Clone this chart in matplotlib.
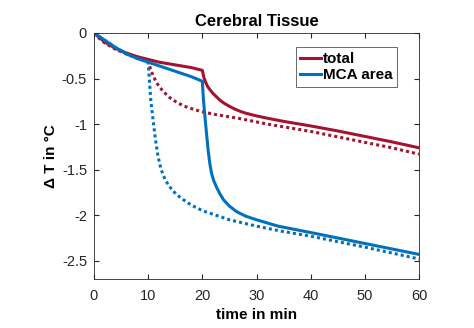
import matplotlib.pyplot as plt
import numpy as np

plt.rcParams['font.family'] = ['Liberation Sans', 'DejaVu Sans']

# total, solid
t_total = [0, 1, 2, 4, 6, 8, 10, 12, 14, 16, 18, 20, 20.3, 20.6, 21, 21.5, 22, 22.6, 23.3, 24,
           25, 26, 27, 28, 29, 30, 32, 35, 40, 45, 50, 55, 60]
T_total = [0, -0.05, -0.1, -0.17, -0.22, -0.26, -0.29, -0.32, -0.34, -0.36, -0.38, -0.41,
           -0.49, -0.54, -0.59, -0.63, -0.665, -0.7, -0.74, -0.77, -0.805, -0.835, -0.86,
           -0.88, -0.895, -0.91, -0.935, -0.97, -1.02, -1.075, -1.135, -1.195, -1.26]

# total, dotted
t_total2 = [0, 1, 2, 4, 6, 8, 10, 10.5, 11, 11.6, 12.2, 13, 14, 15, 16.5, 18, 19.6, 22, 24,
            27, 32, 35, 40, 45, 50, 55, 60]
T_total2 = [0, -0.06, -0.11, -0.18, -0.23, -0.27, -0.31, -0.41, -0.48, -0.55, -0.6, -0.655,
            -0.71, -0.75, -0.8, -0.83, -0.86, -0.89, -0.91, -0.94, -1.0, -1.03, -1.08, -1.14,
            -1.2, -1.26, -1.33]

# MCA area, solid
t_mca = [0, 2, 4, 6, 8, 10, 12, 14, 16, 18, 20, 20.2, 20.5, 20.8, 21.1, 21.4, 21.7, 22.1, 22.6,
         23.2, 23.9, 25, 26.3, 28, 30, 34, 40, 45, 50, 55, 60]
T_mca = [0, -0.08, -0.16, -0.23, -0.28, -0.32, -0.36, -0.4, -0.44, -0.48, -0.53, -0.73, -0.93,
         -1.12, -1.3, -1.44, -1.54, -1.62, -1.69, -1.76, -1.83, -1.9, -1.96, -2.01, -2.05,
         -2.12, -2.19, -2.25, -2.31, -2.37, -2.43]

# MCA area, dotted
t_mca2 = [0, 2, 4, 6, 8, 10, 10.2, 10.5, 10.9, 11.3, 11.8, 12.4, 13.2, 14.5, 16, 18, 20, 25,
          30, 35, 40, 50, 60]
T_mca2 = [0, -0.08, -0.16, -0.23, -0.28, -0.32, -0.5, -0.75, -0.95, -1.15, -1.35, -1.5, -1.62,
          -1.73, -1.81, -1.89, -1.95, -2.05, -2.12, -2.18, -2.23, -2.35, -2.48]

red = '#A2142F'
blue = '#0072BD'

fig = plt.figure(figsize=(4.74, 3.28), dpi=100)
ax = fig.add_axes([94 / 474, 1 - 279 / 328, 325 / 474, 246 / 328])

ax.plot(t_total2, T_total2, color=red, lw=2.2, ls=(0, (1, 1)))
ax.plot(t_mca2, T_mca2, color=blue, lw=2.2, ls=(0, (1, 1)))
ax.plot(t_total, T_total, color=red, lw=2.2, label='total')
ax.plot(t_mca, T_mca, color=blue, lw=2.2, label='MCA area')

ax.set_xlim(0, 60)
ax.set_ylim(-2.7, 0)
ax.set_xticks(np.arange(0, 61, 10))
ax.set_yticks([-2.5, -2, -1.5, -1, -0.5, 0])
ax.set_yticklabels(['-2.5', '-2', '-1.5', '-1', '-0.5', '0'])
ax.tick_params(direction='in', top=True, right=True, labelsize=10.5, length=3.5,
               color='#262626', labelcolor='#262626')
ax.tick_params(axis='x', pad=7)
ax.tick_params(axis='y', pad=5)
for s in ax.spines.values():
    s.set_color('#262626')
    s.set_linewidth(0.6)

ax.set_title('Cerebral Tissue', fontsize=12, fontweight='bold', pad=5)
ax.set_xlabel('time in min', fontsize=11, fontweight='bold', labelpad=4)
ax.set_ylabel('Δ T in °C', fontsize=11, fontweight='bold', labelpad=3)

leg = ax.legend(loc='upper right', bbox_to_anchor=(0.933, 0.9415), fancybox=False,
                edgecolor='#262626', handlelength=1.35, handletextpad=0.15,
                borderpad=0.3, labelspacing=0.15, borderaxespad=0,
                prop={'weight': 'bold', 'size': 11})
leg.get_frame().set_linewidth(0.6)

fig.savefig('out.png', dpi=100)
